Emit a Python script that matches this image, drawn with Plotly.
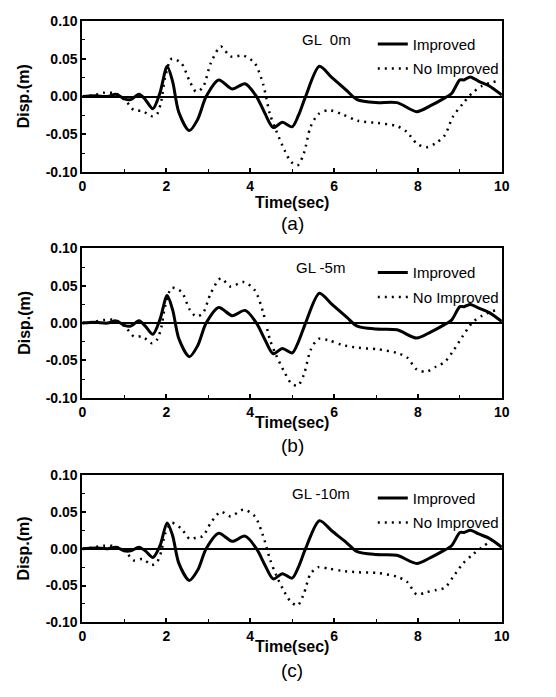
import plotly.graph_objects as go

# ---------------- data ----------------
t_imp = [0, 0.3, 0.6, 0.8, 1.0, 1.15, 1.35, 1.5, 1.68, 1.85, 2.02, 2.15, 2.3, 2.55,
         2.75, 2.95, 3.25, 3.57, 3.88, 4.15, 4.35, 4.55, 4.77, 5.0, 5.15, 5.32, 5.65,
         5.95, 6.3, 6.55, 7.0, 7.5, 7.97, 8.3, 8.6, 8.8, 9.0, 9.1, 9.25, 9.45, 9.7, 10.0]

imp_a = [0, 0.001, 0.0, 0.003, -0.003, -0.004, 0.003, -0.004, -0.016, 0.005, 0.040, 0.020,
         -0.021, -0.045, -0.030, 0.0, 0.022, 0.010, 0.017, 0.0, -0.022, -0.041, -0.034,
         -0.040, -0.025, 0.0, 0.040, 0.025, 0.008, -0.004, -0.008, -0.008, -0.020, -0.012,
         -0.003, 0.004, 0.022, 0.022, 0.026, 0.020, 0.014, 0.002]
imp_b = [0, 0.001, 0.0, 0.003, -0.003, -0.004, 0.003, -0.004, -0.015, 0.005, 0.037, 0.018,
         -0.021, -0.045, -0.030, 0.0, 0.021, 0.010, 0.017, 0.0, -0.022, -0.041, -0.034,
         -0.040, -0.025, 0.0, 0.040, 0.025, 0.008, -0.004, -0.008, -0.009, -0.020, -0.012,
         -0.003, 0.004, 0.022, 0.022, 0.025, 0.020, 0.014, 0.002]
imp_c = [0, 0.001, 0.0, 0.002, -0.003, -0.003, 0.002, -0.003, -0.012, 0.004, 0.035, 0.018,
         -0.020, -0.043, -0.029, 0.0, 0.021, 0.010, 0.017, 0.0, -0.022, -0.041, -0.034,
         -0.040, -0.025, 0.0, 0.038, 0.024, 0.008, -0.004, -0.008, -0.009, -0.020, -0.012,
         -0.003, 0.004, 0.022, 0.022, 0.025, 0.020, 0.014, 0.002]

t_noimp = [0, 0.3, 0.5, 0.8, 1.04, 1.23, 1.43, 1.66, 1.78, 1.88, 1.97, 2.13, 2.36, 2.56,
           2.71, 2.87, 3.06, 3.30, 3.53, 3.84, 4.11, 4.31, 4.47, 4.62, 4.82, 4.97, 5.13,
           5.28, 5.44, 5.63, 5.87, 6.18, 6.57, 7.04, 7.5, 7.74, 7.97, 8.2, 8.44, 8.64,
           8.83, 9.06, 9.3, 9.53, 9.77, 9.85]

noimp_a = [0, 0.002, 0.005, 0.004, -0.006, -0.018, -0.019, -0.026, -0.023, -0.006, 0.025,
           0.050, 0.044, 0.020, 0.0065, 0.012, 0.044, 0.066, 0.053, 0.054, 0.044, 0.016,
           -0.023, -0.045, -0.071, -0.086, -0.091, -0.075, -0.040, -0.023, -0.018, -0.023,
           -0.032, -0.035, -0.039, -0.047, -0.062, -0.067, -0.061, -0.051, -0.027, -0.010,
           0.005, 0.014, 0.019, 0.020]
noimp_b = [0, 0.002, 0.004, 0.004, -0.006, -0.018, -0.018, -0.027, -0.022, -0.006, 0.022,
           0.047, 0.042, 0.018, 0.009, 0.013, 0.040, 0.060, 0.049, 0.055, 0.044, 0.014,
           -0.022, -0.043, -0.066, -0.080, -0.084, -0.069, -0.036, -0.021, -0.023, -0.029,
           -0.033, -0.035, -0.040, -0.046, -0.062, -0.065, -0.058, -0.052, -0.038, -0.018,
           0.001, 0.010, 0.016, 0.017]
noimp_c = [0, 0.002, 0.004, 0.003, -0.005, -0.016, -0.014, -0.022, -0.018, -0.004, 0.020,
           0.035, 0.027, 0.013, 0.015, 0.017, 0.035, 0.050, 0.044, 0.053, 0.044, 0.017,
           -0.014, -0.036, -0.059, -0.072, -0.077, -0.061, -0.034, -0.025, -0.027, -0.030,
           -0.032, -0.033, -0.038, -0.045, -0.062, -0.059, -0.056, -0.053, -0.039, -0.021,
           -0.008, 0.002, 0.012, 0.016]

depth_labels = ["GL  0m", "GL -5m", "GL -10m"]
panel_labels = ["(a)", "(b)", "(c)"]
x_ticks = [0, 2, 4, 6, 8, 10]
y_ticks = [-0.10, -0.05, 0.0, 0.05, 0.10]
y_ticktext = ["-0.10", "-0.05", "0.00", "0.05", "0.10"]
series_names = ["Improved", "No Improved"]

# ---------------- layout geometry (page pixels; page body has an 8px margin) ----------------
OFF = 8
W, H = 540, 681
plot_left, plot_right = 80, 509
panels_px = [(13, 168), (246, 399), (478, 629)]          # (top, bottom) of each plot box
time_title_y = [199, 424, 654]
panel_label_y = [221, 448, 678]
gl_pos = [(330, 32), (323, 266), (324, 497)]
legend_top = [20, 254, 485]


def px(v):
    return (v - OFF) / W


def py(v):
    return 1 - (v - OFF) / H


FONT = "Liberation Sans, Arial, sans-serif"

fig = go.Figure()
imp_sets = [imp_a, imp_b, imp_c]
noimp_sets = [noimp_a, noimp_b, noimp_c]

layout = dict(
    width=W, height=H,
    margin=dict(l=0, r=0, t=0, b=0),
    paper_bgcolor="white", plot_bgcolor="white",
    font=dict(family=FONT, color="black"),
    showlegend=True,
    annotations=[],
)

for i in range(3):
    sfx = "" if i == 0 else str(i + 1)
    xa, ya = "x" + sfx, "y" + sfx
    leg = "legend" + sfx
    top, bot = panels_px[i]

    fig.add_trace(go.Scatter(
        x=t_imp, y=imp_sets[i], mode="lines", name=series_names[0],
        line=dict(color="black", width=3, shape="spline", smoothing=0.8),
        xaxis=xa, yaxis=ya, legend=leg, legendgroup="imp%d" % i))
    fig.add_trace(go.Scatter(
        x=t_noimp, y=noimp_sets[i], mode="lines", name=series_names[1],
        line=dict(color="black", width=2.5, dash="2px,5px", shape="spline", smoothing=0.8),
        xaxis=xa, yaxis=ya, legend=leg, legendgroup="noimp%d" % i))

    layout["xaxis" + sfx] = dict(
        domain=[px(plot_left), px(plot_right)], anchor=ya, range=[0, 10],
        tickvals=x_ticks, ticks="inside", ticklen=4, tickwidth=1.5, tickcolor="black",
        minor=dict(dtick=1, ticks="inside", ticklen=3, tickwidth=1, tickcolor="black"),
        showline=True, linecolor="black", linewidth=2, mirror=True,
        showgrid=False, zeroline=False,
        tickfont=dict(size=14, family=FONT, weight="bold"),
    )
    layout["yaxis" + sfx] = dict(
        domain=[py(bot), py(top)], anchor=xa, range=[-0.10, 0.10],
        tickvals=y_ticks, ticktext=y_ticktext, ticks="inside", ticklen=4, tickwidth=1.5,
        tickcolor="black",
        minor=dict(dtick=0.025, ticks="inside", ticklen=3, tickwidth=1, tickcolor="black"),
        showline=True, linecolor="black", linewidth=2, mirror=True,
        showgrid=False, zeroline=True, zerolinecolor="black", zerolinewidth=2,
        tickfont=dict(size=14, family=FONT, weight="bold"),
    )
    layout[leg] = dict(
        x=px(377), y=py(legend_top[i]), xanchor="left", yanchor="top",
        bgcolor="rgba(0,0,0,0)", borderwidth=0,
        font=dict(size=15, family=FONT, color="black"),
        tracegroupgap=2, itemwidth=30,
    )

    cx = (plot_left + plot_right) / 2
    layout["annotations"] += [
        dict(text="Time(sec)", x=px(cx), y=py(time_title_y[i]), xref="paper", yref="paper",
             showarrow=False, font=dict(size=16, family=FONT, weight="bold"),
             xanchor="center", yanchor="middle"),
        dict(text=panel_labels[i], x=px(cx), y=py(panel_label_y[i]), xref="paper",
             yref="paper", showarrow=False, font=dict(size=19, family=FONT),
             xanchor="center", yanchor="middle"),
        dict(text="Disp.(m)", x=px(20), y=py((top + bot) / 2), xref="paper", yref="paper",
             showarrow=False, textangle=-90, font=dict(size=16, family=FONT, weight="bold"),
             xanchor="center", yanchor="middle"),
        dict(text=depth_labels[i], x=px(gl_pos[i][0]), y=py(gl_pos[i][1]), xref="paper",
             yref="paper", showarrow=False, font=dict(size=15, family=FONT),
             xanchor="center", yanchor="middle"),
    ]

fig.update_layout(**layout)
fig.write_html("out.html")
